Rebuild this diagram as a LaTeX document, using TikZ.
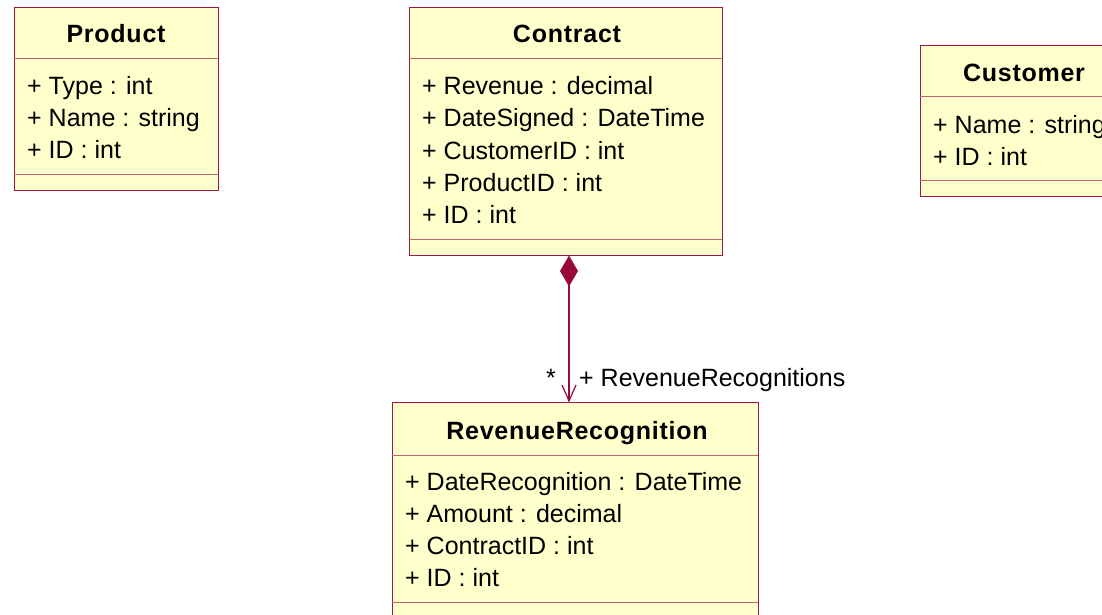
\documentclass[tikz,border=0pt]{standalone}
\usepackage{fontspec}
\setmainfont{Liberation Sans}
\newfontfamily\titlefont[LetterSpace=3]{Liberation Sans}
\usetikzlibrary{arrows.meta}
\definecolor{umlborder}{RGB}{160,20,70}
\definecolor{umlsep}{RGB}{195,100,120}
\definecolor{umlfill}{RGB}{255,255,204}
\definecolor{umlline}{RGB}{150,10,60}
\tikzset{
  classbox/.style={draw=umlborder, fill=umlfill, line width=1pt, anchor=north west, inner sep=0pt},
  septext/.style={},
  attr/.style={anchor=base west, inner sep=0pt, font=\fontsize{25}{30}\selectfont},
  ctitle/.style={anchor=base, inner sep=0pt, font=\titlefont\fontsize{25}{30}\selectfont\bfseries},
  sepline/.style={draw=umlsep, line width=1pt},
  assoc/.style={draw=umlline, line width=1.2pt},
  lbl/.style={anchor=base west, inner sep=0pt, font=\fontsize{25}{30}\selectfont},
}
\begin{document}
\begin{tikzpicture}[x=1pt,y=-1pt]
\useasboundingbox (0,0) rectangle (1102,615);
\clip (0,0) rectangle (1102,615);
% Product
\node[classbox, minimum width=204pt, minimum height=183pt] (product) at (14,7) {};
\draw[sepline] (14,59) -- (218,59);
\draw[sepline] (14,174) -- (218,174);
\node[ctitle] (productT) at (116,43) {Product};
\node[attr] (p1) at (27,95) {+ Type : int};
\node[attr] (p2) at (27,127) {+ Name : string};
\node[attr] (p3) at (27,158) {+ ID : int};
% Contract
\node[classbox, minimum width=313pt, minimum height=248pt] (contract) at (409,7) {};
\draw[sepline] (409,59) -- (722,59);
\draw[sepline] (409,239) -- (722,239);
\node[ctitle] (contractT) at (567,43) {Contract};
\node[attr] (c1) at (422,95) {+ Revenue : decimal};
\node[attr] (c2) at (422,127) {+ DateSigned : DateTime};
\node[attr] (c3) at (422,159) {+ CustomerID : int};
\node[attr] (c4) at (422,191) {+ ProductID : int};
\node[attr] (c5) at (422,223) {+ ID : int};
% Customer
\node[classbox, minimum width=210pt, minimum height=151pt] (customer) at (920,45) {};
\draw[sepline] (920,97) -- (1130,97);
\draw[sepline] (920,180) -- (1130,180);
\node[ctitle] (customerT) at (1024,82) {Customer};
\node[attr] (u1) at (933,133) {+ Name : string};
\node[attr] (u2) at (933,165) {+ ID : int};
% RevenueRecognition
\node[classbox, minimum width=366pt, minimum height=240pt] (rr) at (392,402) {};
\draw[sepline] (392,455) -- (758,455);
\draw[sepline] (392,602) -- (758,602);
\node[ctitle] (rrT) at (577,439) {RevenueRecognition};
\node[attr] (r1) at (405,490) {+ DateRecognition : DateTime};
\node[attr] (r2) at (405,522) {+ Amount : decimal};
\node[attr] (r3) at (405,554) {+ ContractID : int};
\node[attr] (r4) at (405,586) {+ ID : int};
% Association
\coordinate (cs) at (569,255.5);
\coordinate (rt) at (569,402.5);
\draw[assoc, {Diamond[fill=umlline, length=31pt, width=18pt, line width=0pt]}-{Straight Barb[length=16pt, width=14pt, line width=1.2pt]}] (cs) -- (rt);
\node[lbl] (mult) at (546,386) {*};
\node[lbl] (role) at (579,386) {+ RevenueRecognitions};
\end{tikzpicture}
\end{document}
